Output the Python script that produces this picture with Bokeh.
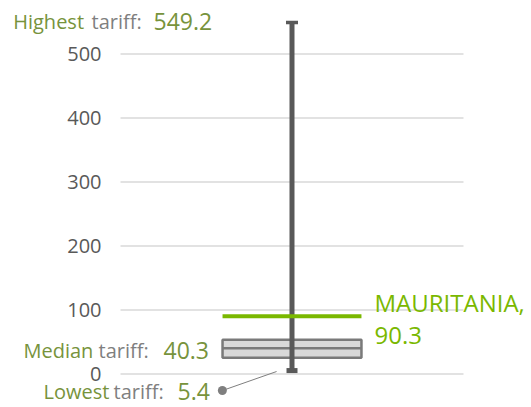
from bokeh.plotting import figure
from bokeh.models import Range1d
from bokeh.core.properties import value
from bokeh.embed import file_html
from bokeh.resources import INLINE

# ---- data ----
lowest_tariff = 5.4
highest_tariff = 549.2
median_tariff = 40.3
q1_tariff = 25.5
q3_tariff = 53.5
country = "MAURITANIA"
country_tariff = 90.3
y_ticks = [0, 100, 200, 300, 400, 500]
y_tick_labels = ["0", "100", "200", "300", "400", "500"]

FONT = "Open Sans"
OLIVE = "#77933C"
GRAY_TXT = "#7F7F7F"
BRIGHT = "#7AB800"

W, H = 531, 407
p = figure(width=W, height=H, output_backend="svg", toolbar_location=None,
           x_range=Range1d(-0.34985, 1.19825), y_range=Range1d(-52.3, 583.6),
           x_axis_location=None, y_axis_location=None,
           min_border_left=0, min_border_right=0, min_border_top=0, min_border_bottom=0)
p.outline_line_color = None
p.xgrid.grid_line_color = None
p.ygrid.grid_line_color = None

# gridlines and tick labels
p.segment(x0=[0] * len(y_ticks), x1=[1] * len(y_ticks), y0=y_ticks, y1=y_ticks,
          line_color="#D9D9D9", line_width=1.5)
p.text(x=[-0.0554] * len(y_ticks), y=y_ticks, text=y_tick_labels,
       text_font=value(FONT), text_font_size="20px", text_color="#595959",
       text_align="right", text_baseline="middle")

cx = 0.5
bw = 0.405

# box
p.vbar(x=[cx], width=bw, bottom=[q1_tariff], top=[q3_tariff],
       fill_color="#D9D9D9", line_color="#7A7A7A", line_width=2.5)
p.segment(x0=[cx - bw / 2], x1=[cx + bw / 2], y0=[median_tariff], y1=[median_tariff],
          line_color="#7A7A7A", line_width=2.5)
# whisker
p.segment(x0=[cx], x1=[cx], y0=[lowest_tariff], y1=[highest_tariff],
          line_color="#595959", line_width=5)
p.rect(x=[cx], y=[highest_tariff], width=12, height=3.5, width_units="screen",
       height_units="screen", fill_color="#595959", line_color=None)
p.rect(x=[cx], y=[lowest_tariff], width=11, height=5, width_units="screen",
       height_units="screen", fill_color="#595959", line_color=None)
# country line
p.segment(x0=[cx - bw / 2], x1=[cx + bw / 2], y0=[country_tariff], y1=[country_tariff],
          line_color=BRIGHT, line_width=4)

# leader for lowest
p.segment(x0=[0.297], x1=[0.455], y0=[-25.8], y1=[3.9], line_color="#7F7F7F", line_width=1)
p.scatter(x=[0.297], y=[-25.8], size=9, fill_color="#7F7F7F", line_color=None)


def lab(x, y, text, color, size):
    p.text(x=[x], y=[y], text=[text], text_color=color, text_font=value(FONT),
           text_font_size=size, text_baseline="alphabetic", text_align="left")


LS, VS = "20px", "23px"
lab(-0.3128, 550.7, "Highest", OLIVE, LS)
lab(-0.0845, 550.7, "tariff:", GRAY_TXT, LS)
lab(0.0962, 550.7, f"{highest_tariff}", OLIVE, VS)

lab(-0.2828, 37.5, "Median", OLIVE, LS)
lab(-0.0641, 37.5, "tariff:", GRAY_TXT, LS)
lab(0.1254, 37.5, f"{median_tariff}", OLIVE, VS)

lab(-0.2245, -27.0, "Lowest", OLIVE, LS)
lab(-0.0204, -27.0, "tariff:", GRAY_TXT, LS)
lab(0.1662, -27.0, f"{lowest_tariff}", OLIVE, VS)

lab(0.7405, 111.0, f"{country},", BRIGHT, "24px")
lab(0.7405, 59.5, f"{country_tariff}", BRIGHT, "24px")

open("out.html", "w").write(file_html(p, INLINE))
